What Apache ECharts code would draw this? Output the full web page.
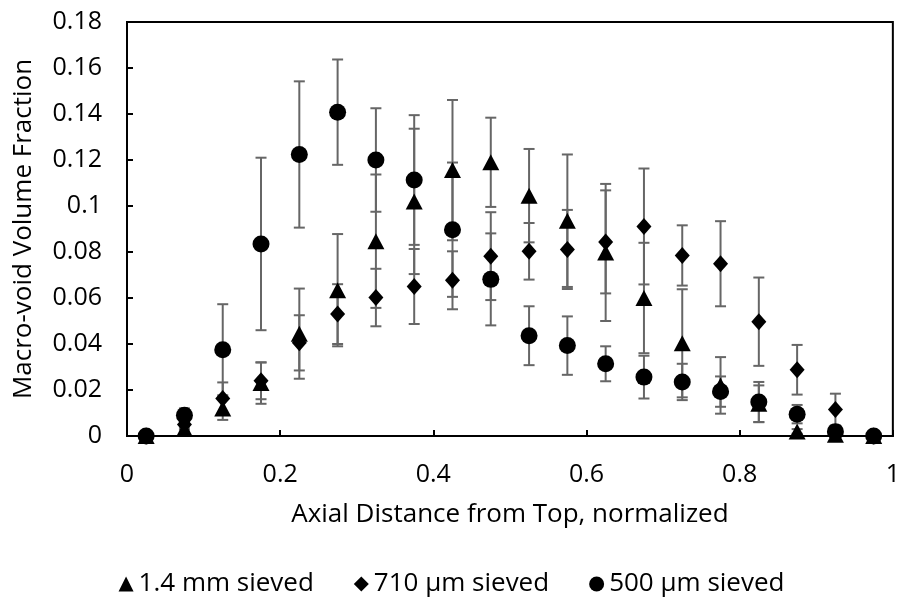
<!DOCTYPE html>
<html>
<head>
<meta charset="utf-8">
<script src="https://cdn.jsdelivr.net/npm/echarts@6/dist/echarts.min.js"></script>
<style>html,body{margin:0;padding:0;background:#fff;}#c{width:903px;height:607px;}</style>
</head>
<body>
<div id="c"></div>
<script>
const xPos = [0.025,0.075,0.125,0.175,0.225,0.275,0.325,0.375,0.425,0.475,0.525,0.575,0.625,0.675,0.725,0.775,0.825,0.875,0.925,0.975];

const mm14Vals = [0,0.003,0.012,0.023,0.0445,0.0634,0.0847,0.102,0.1156,0.119,0.1045,0.0936,0.0798,0.060,0.0403,0.022,0.014,0.002,0.0005,0];
const mm14Err  = [0,0.001,0.005,0.009,0.0196,0.0244,0.029,0.0316,0.0305,0.0194,0.0203,0.0288,0.0298,0.024,0.0235,0.0123,0.008,0.001,0,0];

const um710Vals = [0,0.005,0.0163,0.024,0.0405,0.053,0.0602,0.065,0.0677,0.0782,0.0803,0.0811,0.0844,0.0911,0.0785,0.0749,0.0497,0.0288,0.0115,0];
const um710Err  = [0,0.002,0.007,0.008,0.012,0.013,0.0125,0.0163,0.0126,0.0191,0.0123,0.0172,0.0224,0.0252,0.0131,0.0185,0.0192,0.0108,0.0069,0];

const um500Vals = [0,0.009,0.0375,0.0835,0.1224,0.1408,0.12,0.1113,0.0897,0.0681,0.0436,0.0393,0.0314,0.0256,0.0235,0.0193,0.0148,0.0095,0.0019,0];
const um500Err  = [0,0.003,0.0198,0.0375,0.0318,0.0229,0.0225,0.0282,0.0292,0.02,0.0128,0.0127,0.0076,0.0093,0.0079,0.0066,0.0087,0.004,0.001,0];

const seriesNames = ['1.4 mm sieved','710 µm sieved','500 µm sieved'];

const FONT = 'Open Sans';
const TFS = 26;   // axis titles
const LBS = 25;   // tick labels
const LFS = 26;   // legend

function pts(vals){ return xPos.map((x,i)=>[x, vals[i]]); }
function errData(vals, errs){ return xPos.map((x,i)=>[x, vals[i]-errs[i], vals[i]+errs[i]]); }

function errSeries(vals, errs){
  return {
    type:'custom',
    clip:false,
    z:1,
    silent:true,
    data: errData(vals, errs),
    renderItem: function(params, api){
      const x = api.value(0);
      const lo = api.coord([x, api.value(1)]);
      const hi = api.coord([x, api.value(2)]);
      if (Math.abs(hi[1]-lo[1]) < 1) return null;
      const hw = 5.5;
      const st = {stroke:'#666666', lineWidth:2};
      return {type:'group', children:[
        {type:'line', shape:{x1:lo[0],y1:lo[1],x2:hi[0],y2:hi[1]}, style:st},
        {type:'line', shape:{x1:lo[0]-hw,y1:lo[1],x2:lo[0]+hw,y2:lo[1]}, style:st},
        {type:'line', shape:{x1:hi[0]-hw,y1:hi[1],x2:hi[0]+hw,y2:hi[1]}, style:st}
      ]};
    }
  };
}

const chart = echarts.init(document.getElementById('c'), null, {renderer:'canvas'});
chart.setOption({
  animation:false,
  backgroundColor:'#fff',
  textStyle:{fontFamily:FONT},
  grid:{left:127, right:9, top:22, bottom:171, show:true, borderColor:'#000', borderWidth:2, backgroundColor:'transparent'},
  xAxis:{
    type:'value', min:0, max:1, interval:0.2,
    name:'Axial Distance from Top, normalized', nameLocation:'middle', nameGap:66,
    nameTextStyle:{fontFamily:FONT, fontSize:TFS, color:'#000'},
    axisLine:{show:true, onZero:false, lineStyle:{color:'#000', width:2}},
    axisTick:{show:true, inside:true, length:6, lineStyle:{color:'#000', width:2}},
    axisLabel:{fontFamily:FONT, fontSize:LBS, color:'#000', margin:26, formatter:v=>String(+v.toFixed(2))},
    splitLine:{show:false}
  },
  yAxis:{
    type:'value', min:0, max:0.18, interval:0.02,
    name:'Macro-void Volume Fraction', nameLocation:'middle', nameGap:90, nameRotate:90,
    nameTextStyle:{fontFamily:FONT, fontSize:TFS, color:'#000'},
    axisLine:{show:true, lineStyle:{color:'#000', width:2}},
    axisTick:{show:true, inside:true, length:6, lineStyle:{color:'#000', width:2}},
    axisLabel:{fontFamily:FONT, fontSize:LBS, color:'#000', margin:25, formatter:v=>String(+v.toFixed(2))},
    splitLine:{show:false}
  },
  legend:{
    data:[
      {name:seriesNames[0], icon:'triangle'},
      {name:seriesNames[1], icon:'diamond'},
      {name:seriesNames[2], icon:'circle'}
    ],
    bottom:5, left:'center', itemWidth:15, itemHeight:15, itemGap:40,
    textStyle:{fontFamily:FONT, fontSize:LFS, color:'#000'}
  },
  series:[
    errSeries(mm14Vals, mm14Err),
    errSeries(um710Vals, um710Err),
    errSeries(um500Vals, um500Err),
    {name:seriesNames[0], type:'scatter', symbol:'triangle', symbolSize:[17,16], clip:false, z:3,
     itemStyle:{color:'#000', opacity:1}, data:pts(mm14Vals)},
    {name:seriesNames[1], type:'scatter', symbol:'diamond', symbolSize:[15,17], clip:false, z:4,
     itemStyle:{color:'#000', opacity:1}, data:pts(um710Vals)},
    {name:seriesNames[2], type:'scatter', symbol:'circle', symbolSize:17, clip:false, z:5,
     itemStyle:{color:'#000', opacity:1}, data:pts(um500Vals)}
  ]
});
</script>
</body>
</html>
